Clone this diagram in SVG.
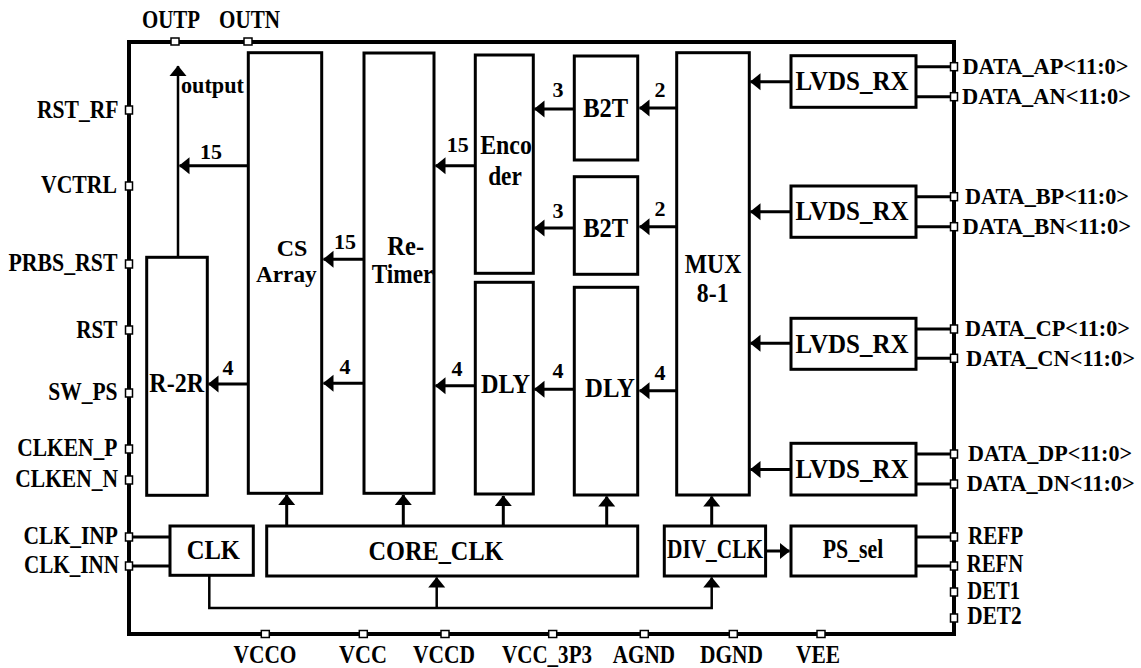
<svg xmlns="http://www.w3.org/2000/svg" width="1141" height="668" viewBox="0 0 1141 668">
<style>
.blk{fill:#fff;stroke:#000;stroke-width:3}
.t{font-family:"Liberation Serif","Times New Roman",serif;font-weight:bold;fill:#000}
.lb{font-size:26.5px;text-anchor:middle}
.lbs{font-size:23px;text-anchor:middle}
.pl{font-size:24.5px}
.dl{font-size:22.5px}
.num{font-size:22px;text-anchor:middle}
.ln{stroke:#000;stroke-width:3;fill:none}
.thin{stroke:#000;stroke-width:2.5;fill:none}
.arr{marker-end:url(#ah)}
.pin{fill:#fff;stroke:#000;stroke-width:1.5}
</style>
<defs>
<marker id="ah" markerUnits="userSpaceOnUse" markerWidth="11" markerHeight="18" viewBox="0 -9 11 18" refX="10" refY="0" orient="auto">
<path d="M0,-8.5 L10.5,0 L0,8.5 z" fill="#000"/>
</marker>
</defs>
<rect width="1141" height="668" fill="#fff"/>

<g id="frame">
<rect x="129" y="42" width="825" height="592" fill="none" stroke="#000" stroke-width="4"/>
</g>

<g id="connectors">
<path class="thin arr" d="M178,257 V66"/>
<path class="ln arr" d="M248,165.7 H179.5"/>
<path class="ln arr" d="M364,259.3 H323.5"/>
<path class="ln arr" d="M248,384 H208.5"/>
<path class="ln arr" d="M364,383.3 H323.5"/>
<path class="ln arr" d="M475,165.7 H435.5"/>
<path class="ln arr" d="M574,109 H534.5"/>
<path class="ln arr" d="M574,228 H534.5"/>
<path class="ln arr" d="M677,108 H639.5"/>
<path class="ln arr" d="M677,226.7 H639.5"/>
<path class="ln arr" d="M475,385.7 H435.5"/>
<path class="ln arr" d="M574,389.3 H534.5"/>
<path class="ln arr" d="M677,390.7 H639.5"/>
<path class="ln arr" d="M791,81.7 H750.5"/>
<path class="ln arr" d="M791,211.7 H750.5"/>
<path class="ln arr" d="M791,343.3 H750.5"/>
<path class="ln arr" d="M791,469.5 H750.5"/>
<path class="ln arr" d="M286.7,526 V495"/>
<path class="ln arr" d="M403.3,526 V495"/>
<path class="ln arr" d="M503.3,526 V496"/>
<path class="ln arr" d="M606.7,526 V496.5"/>
<path class="ln arr" d="M711.7,526 V496.5"/>
<path class="ln arr" d="M765.5,551 H789.5"/>
<path class="thin arr" d="M209.3,576 V608 H711.7 V577.5"/>
<path class="thin arr" d="M436.7,608 V577.5"/>
<path class="ln" d="M133,537 H170 M133,566 H170"/>
<path class="ln" d="M916,537 H950 M916,566 H950"/>
<path class="ln" d="M916,66.7 H950 M916,96.7 H950 M916,196.7 H950 M916,226.7 H950 M916,329 H950 M916,358.3 H950 M916,454 H950 M916,484 H950"/>
</g>

<g id="r2r"><rect class="blk" x="146.7" y="257.3" width="60.6" height="238"/><text class="t lb" x="176.7" y="392" textLength="54.7" lengthAdjust="spacingAndGlyphs">R-2R</text></g>
<g id="csarray"><rect class="blk" x="248.3" y="52.7" width="73.4" height="440.6"/><text class="t lbs" x="292" y="255.5" textLength="30.7" lengthAdjust="spacingAndGlyphs">CS</text><text class="t lbs" x="286.3" y="282" textLength="60.7" lengthAdjust="spacingAndGlyphs">Array</text></g>
<g id="retimer"><rect class="blk" x="364" y="53" width="70" height="440.3"/><text class="t lb" x="405.7" y="255" textLength="36.7" lengthAdjust="spacingAndGlyphs">Re-</text><text class="t lb" x="402.5" y="283" textLength="61.7" lengthAdjust="spacingAndGlyphs">Timer</text></g>
<g id="encoder"><rect class="blk" x="475.3" y="55" width="58" height="218.3"/><text class="t lb" x="506" y="154" textLength="51.7" lengthAdjust="spacingAndGlyphs">Enco</text><text class="t lb" x="505" y="185" textLength="33.7" lengthAdjust="spacingAndGlyphs">der</text></g>
<g id="dly1"><rect class="blk" x="475.3" y="282.3" width="58" height="211.7"/><text class="t lb" x="505.5" y="393" textLength="49" lengthAdjust="spacingAndGlyphs">DLY</text></g>
<g id="b2t1"><rect class="blk" x="574.3" y="56" width="63.4" height="104"/><text class="t lb" x="605.7" y="116.5" textLength="45" lengthAdjust="spacingAndGlyphs">B2T</text></g>
<g id="b2t2"><rect class="blk" x="574.3" y="176.7" width="63.4" height="97.6"/><text class="t lb" x="605.7" y="236.5" textLength="45" lengthAdjust="spacingAndGlyphs">B2T</text></g>
<g id="dly2"><rect class="blk" x="574.3" y="287.3" width="63.4" height="207.7"/><text class="t lb" x="610" y="397" textLength="50" lengthAdjust="spacingAndGlyphs">DLY</text></g>
<g id="mux"><rect class="blk" x="676.7" y="52.7" width="72.6" height="442.3"/><text class="t lb" x="713" y="273" textLength="56.7" lengthAdjust="spacingAndGlyphs">MUX</text><text class="t lb" x="712.7" y="302" textLength="31.7" lengthAdjust="spacingAndGlyphs">8-1</text></g>
<g id="lvds1"><rect class="blk" x="791" y="55.7" width="125" height="51.6"/><text class="t lb" x="852" y="90" textLength="113" lengthAdjust="spacingAndGlyphs">LVDS_RX</text></g>
<g id="lvds2"><rect class="blk" x="791" y="186" width="125" height="51.3"/><text class="t lb" x="852" y="220" textLength="113" lengthAdjust="spacingAndGlyphs">LVDS_RX</text></g>
<g id="lvds3"><rect class="blk" x="791" y="318.3" width="125" height="51"/><text class="t lb" x="852" y="353" textLength="113" lengthAdjust="spacingAndGlyphs">LVDS_RX</text></g>
<g id="lvds4"><rect class="blk" x="791" y="443.3" width="125" height="51.7"/><text class="t lb" x="852" y="478" textLength="113" lengthAdjust="spacingAndGlyphs">LVDS_RX</text></g>
<g id="clk"><rect class="blk" x="170" y="526" width="83.3" height="49.3"/><text class="t lb" x="213.3" y="559" textLength="53.3" lengthAdjust="spacingAndGlyphs">CLK</text></g>
<g id="coreclk"><rect class="blk" x="266.7" y="526" width="371" height="50"/><text class="t lb" x="436" y="560" textLength="135" lengthAdjust="spacingAndGlyphs">CORE_CLK</text></g>
<g id="divclk"><rect class="blk" x="664.3" y="526" width="101.3" height="50"/><text class="t lb" x="715" y="558" textLength="96" lengthAdjust="spacingAndGlyphs">DIV_CLK</text></g>
<g id="pssel"><rect class="blk" x="791" y="526" width="125" height="50"/><text class="t lb" x="853" y="558" textLength="60.7" lengthAdjust="spacingAndGlyphs">PS_sel</text></g>

<g id="labels">
<text class="t" font-size="23" x="181" y="93" textLength="63" lengthAdjust="spacingAndGlyphs">output</text>
<text class="t num" x="211" y="159">15</text>
<text class="t num" x="345" y="249">15</text>
<text class="t num" x="228" y="375">4</text>
<text class="t num" x="345" y="374">4</text>
<text class="t num" x="457.7" y="152">15</text>
<text class="t num" x="558" y="97">3</text>
<text class="t num" x="558" y="218">3</text>
<text class="t num" x="660" y="97">2</text>
<text class="t num" x="660" y="216">2</text>
<text class="t num" x="457" y="376">4</text>
<text class="t num" x="558" y="378">4</text>
<text class="t num" x="660" y="380">4</text>
</g>

<g id="pins">
<rect class="pin" x="171" y="38" width="8" height="7"/>
<rect class="pin" x="244" y="38" width="8" height="7"/>
<rect class="pin" x="125.5" y="106" width="7" height="8"/>
<rect class="pin" x="125.5" y="182" width="7" height="8"/>
<rect class="pin" x="125.5" y="260" width="7" height="8"/>
<rect class="pin" x="125.5" y="326" width="7" height="8"/>
<rect class="pin" x="125.5" y="389" width="7" height="8"/>
<rect class="pin" x="125.5" y="445" width="7" height="8"/>
<rect class="pin" x="125.5" y="476" width="7" height="8"/>
<rect class="pin" x="125.5" y="533" width="7" height="8"/>
<rect class="pin" x="125.5" y="562" width="7" height="8"/>
<rect class="pin" x="950.5" y="62.7" width="7" height="8"/>
<rect class="pin" x="950.5" y="92.7" width="7" height="8"/>
<rect class="pin" x="950.5" y="192.7" width="7" height="8"/>
<rect class="pin" x="950.5" y="222.7" width="7" height="8"/>
<rect class="pin" x="950.5" y="325" width="7" height="8"/>
<rect class="pin" x="950.5" y="354.3" width="7" height="8"/>
<rect class="pin" x="950.5" y="450" width="7" height="8"/>
<rect class="pin" x="950.5" y="480" width="7" height="8"/>
<rect class="pin" x="950.5" y="533" width="7" height="8"/>
<rect class="pin" x="950.5" y="562" width="7" height="8"/>
<rect class="pin" x="950.5" y="588" width="7" height="8"/>
<rect class="pin" x="950.5" y="614" width="7" height="8"/>
<rect class="pin" x="261.3" y="630.5" width="8" height="7"/>
<rect class="pin" x="359.3" y="630.5" width="8" height="7"/>
<rect class="pin" x="441" y="630.5" width="8" height="7"/>
<rect class="pin" x="548.7" y="630.5" width="8" height="7"/>
<rect class="pin" x="640.3" y="630.5" width="8" height="7"/>
<rect class="pin" x="729.3" y="630.5" width="8" height="7"/>
<rect class="pin" x="817" y="630.5" width="8" height="7"/>
</g>

<g id="pin-labels">
<text class="t pl" x="171" y="28" text-anchor="middle" textLength="58" lengthAdjust="spacingAndGlyphs">OUTP</text>
<text class="t pl" x="249.5" y="28" text-anchor="middle" textLength="61" lengthAdjust="spacingAndGlyphs">OUTN</text>
<g text-anchor="end">
<text class="t pl" x="118.5" y="117.5" textLength="81.6" lengthAdjust="spacingAndGlyphs">RST_RF</text>
<text class="t pl" x="117" y="193" textLength="76" lengthAdjust="spacingAndGlyphs">VCTRL</text>
<text class="t pl" x="117.5" y="271" textLength="109" lengthAdjust="spacingAndGlyphs">PRBS_RST</text>
<text class="t pl" x="117.5" y="337.5" textLength="41.3" lengthAdjust="spacingAndGlyphs">RST</text>
<text class="t pl" x="117.5" y="400" textLength="69.3" lengthAdjust="spacingAndGlyphs">SW_PS</text>
<text class="t pl" x="117.5" y="456" textLength="100.3" lengthAdjust="spacingAndGlyphs">CLKEN_P</text>
<text class="t pl" x="118" y="487" textLength="102.7" lengthAdjust="spacingAndGlyphs">CLKEN_N</text>
<text class="t pl" x="118" y="544" textLength="94.4" lengthAdjust="spacingAndGlyphs">CLK_INP</text>
<text class="t pl" x="119" y="573" textLength="95" lengthAdjust="spacingAndGlyphs">CLK_INN</text>
</g>
<text class="t dl" x="962.5" y="74" textLength="166" lengthAdjust="spacingAndGlyphs">DATA_AP&lt;11:0&gt;</text>
<text class="t dl" x="962" y="104" textLength="169" lengthAdjust="spacingAndGlyphs">DATA_AN&lt;11:0&gt;</text>
<text class="t dl" x="965" y="204" textLength="164" lengthAdjust="spacingAndGlyphs">DATA_BP&lt;11:0&gt;</text>
<text class="t dl" x="962.5" y="234" textLength="168.5" lengthAdjust="spacingAndGlyphs">DATA_BN&lt;11:0&gt;</text>
<text class="t dl" x="965" y="336" textLength="165" lengthAdjust="spacingAndGlyphs">DATA_CP&lt;11:0&gt;</text>
<text class="t dl" x="966" y="366" textLength="169" lengthAdjust="spacingAndGlyphs">DATA_CN&lt;11:0&gt;</text>
<text class="t dl" x="968" y="461" textLength="164" lengthAdjust="spacingAndGlyphs">DATA_DP&lt;11:0&gt;</text>
<text class="t dl" x="966.7" y="491" textLength="168" lengthAdjust="spacingAndGlyphs">DATA_DN&lt;11:0&gt;</text>
<text class="t pl" x="968" y="544" textLength="55" lengthAdjust="spacingAndGlyphs">REFP</text>
<text class="t pl" x="966.7" y="572" textLength="56.7" lengthAdjust="spacingAndGlyphs">REFN</text>
<text class="t pl" x="967.3" y="599" textLength="52.7" lengthAdjust="spacingAndGlyphs">DET1</text>
<text class="t pl" x="967.3" y="624" textLength="54.3" lengthAdjust="spacingAndGlyphs">DET2</text>
<g text-anchor="middle">
<text class="t pl" x="265" y="663" textLength="63" lengthAdjust="spacingAndGlyphs">VCCO</text>
<text class="t pl" x="363" y="663" textLength="48" lengthAdjust="spacingAndGlyphs">VCC</text>
<text class="t pl" x="444" y="663" textLength="62" lengthAdjust="spacingAndGlyphs">VCCD</text>
<text class="t pl" x="547" y="663" textLength="90" lengthAdjust="spacingAndGlyphs">VCC_3P3</text>
<text class="t pl" x="644" y="663" textLength="62.3" lengthAdjust="spacingAndGlyphs">AGND</text>
<text class="t pl" x="731.5" y="663" textLength="63" lengthAdjust="spacingAndGlyphs">DGND</text>
<text class="t pl" x="818" y="663" textLength="44" lengthAdjust="spacingAndGlyphs">VEE</text>
</g>
</g>
</svg>
